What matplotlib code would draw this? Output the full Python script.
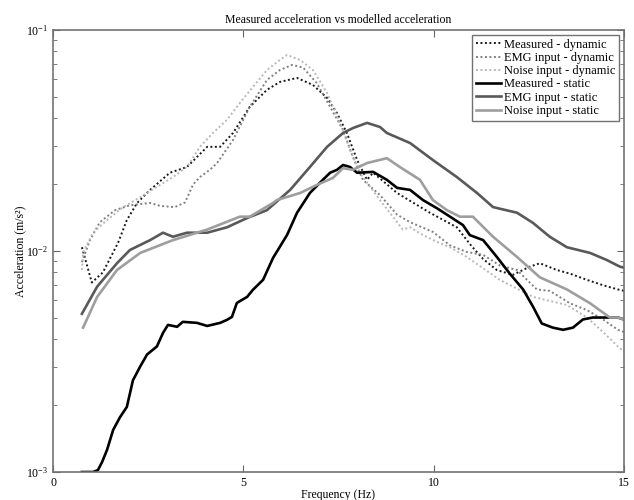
import numpy as np
import matplotlib
matplotlib.use("Agg")
import matplotlib.pyplot as plt

plt.rcParams['font.family'] = ['Liberation Serif', 'DejaVu Serif']
plt.rcParams['mathtext.fontset'] = 'custom'
plt.rcParams['mathtext.rm'] = 'Liberation Serif'
plt.rcParams['mathtext.it'] = 'Liberation Serif:italic'

# values (frequency in Hz, acceleration in m/s^2)
meas_dyn_f = [0.76, 1.02, 1.31, 1.71, 1.94, 2.21, 2.55, 3.07, 3.52, 4.05, 4.39, 4.73,
              5.17, 5.62, 5.96, 6.41, 6.83, 7.20, 7.46, 7.72, 7.99, 8.25, 8.41, 9.04,
              9.90, 10.61, 11.0, 11.30, 11.66, 12.08, 12.53, 12.79, 13.24, 13.58, 14.03,
              14.45, 14.84, 15.0]
meas_dyn_a = [0.0104, 0.0072, 0.0080, 0.0109, 0.0138, 0.0165, 0.0189, 0.0226, 0.0240,
              0.0296, 0.0296, 0.0342, 0.0449, 0.0536, 0.0582, 0.0607, 0.0564, 0.0493,
              0.0421, 0.0342, 0.0258, 0.0210, 0.0226, 0.0183, 0.0149, 0.0128, 0.0105,
              0.0092, 0.0082, 0.0078, 0.0085, 0.0088, 0.0082, 0.0079, 0.0074, 0.0070,
              0.0067, 0.0066]

emg_dyn_f = [0.76, 0.97, 1.23, 1.63, 2.02, 2.55, 2.81, 3.20, 3.47, 3.68, 3.86, 4.12,
             4.31, 4.73, 5.17, 5.62, 5.96, 6.28, 6.57, 6.93, 7.28, 7.62, 7.88, 8.14,
             8.59, 9.04, 9.38, 9.98, 10.43, 10.87, 11.30, 11.74, 12.19, 12.71, 13.05,
             13.58, 14.03, 14.45, 14.84, 15.0]
emg_dyn_a = [0.0089, 0.0112, 0.0135, 0.0153, 0.0161, 0.0165, 0.0160, 0.0158, 0.0166,
             0.0200, 0.0216, 0.0233, 0.0250, 0.0318, 0.0449, 0.0594, 0.0659, 0.0695,
             0.0676, 0.0575, 0.0449, 0.0353, 0.0266, 0.0210, 0.0179, 0.0146, 0.0135,
             0.0122, 0.0106, 0.0099, 0.0096, 0.0086, 0.0082, 0.0067, 0.0066, 0.0058,
             0.0054, 0.0049, 0.0044, 0.0043]

noise_dyn_f = [0.76, 0.79, 1.05, 1.42, 1.84, 2.29, 2.73, 3.15, 3.52, 3.86, 4.20, 4.57,
               4.91, 5.25, 5.62, 5.96, 6.15, 6.49, 6.83, 7.20, 7.54, 7.80, 8.06, 8.59,
               9.04, 9.19, 9.38, 9.72, 10.09, 10.43, 10.87, 11.74, 12.61, 13.50, 14.03,
               14.45, 14.84, 15.0]
noise_dyn_a = [0.0082, 0.0098, 0.0121, 0.0138, 0.0158, 0.0175, 0.0195, 0.0216, 0.0240,
               0.0296, 0.0342, 0.0392, 0.0468, 0.0552, 0.0659, 0.0732, 0.0771, 0.0732,
               0.0659, 0.0519, 0.0380, 0.0287, 0.0226, 0.0170, 0.0135, 0.0125, 0.0128,
               0.0118, 0.0110, 0.0104, 0.0094, 0.0074, 0.0062, 0.0057, 0.0050, 0.0043,
               0.0037, 0.0035]

meas_st_f = [0.76, 1.05, 1.18, 1.29, 1.42, 1.58, 1.76, 1.94, 2.10, 2.29, 2.47, 2.73,
             2.89, 3.02, 3.26, 3.41, 3.78, 4.05, 4.39, 4.57, 4.70, 4.83, 5.10, 5.25,
             5.52, 5.78, 6.15, 6.41, 6.75, 7.09, 7.28, 7.46, 7.62, 7.80, 7.99, 8.41,
             8.77, 9.04, 9.38, 9.72, 10.09, 10.43, 10.77, 10.95, 11.30, 11.66, 12.00,
             12.35, 12.61, 12.84, 13.13, 13.40, 13.66, 13.92, 14.18, 14.55, 14.84, 15.0]
meas_st_a = [0.00100, 0.00100, 0.00102, 0.00111, 0.00126, 0.00155, 0.00177, 0.00197,
             0.00260, 0.00300, 0.00340, 0.00370, 0.00426, 0.00463, 0.00454, 0.00478,
             0.00473, 0.00458, 0.00473, 0.00488, 0.00503, 0.00582, 0.00620, 0.00667,
             0.00741, 0.00930, 0.01183, 0.01488, 0.01832, 0.0210, 0.0226, 0.0233,
             0.0245, 0.0240, 0.0226, 0.0228, 0.0210, 0.0193, 0.0189, 0.0170, 0.0156,
             0.0143, 0.0131, 0.0118, 0.0112, 0.0094, 0.0079, 0.0067, 0.0056, 0.0047,
             0.0045, 0.0044, 0.0045, 0.0049, 0.0050, 0.0050, 0.0050, 0.0049]

emg_st_f = [0.76, 1.16, 1.68, 2.02, 2.55, 2.89, 3.15, 3.52, 4.05, 4.57, 5.10, 5.62,
            6.23, 6.75, 7.20, 7.62, 7.88, 8.25, 8.59, 8.77, 9.38, 9.98, 10.61, 11.14,
            11.56, 12.19, 12.61, 13.05, 13.50, 14.11, 14.55, 14.89, 15.0]
emg_st_a = [0.0052, 0.0069, 0.0088, 0.0101, 0.0112, 0.0121, 0.0116, 0.0121, 0.0121,
            0.0128, 0.0141, 0.0153, 0.0189, 0.0240, 0.0296, 0.0342, 0.0360, 0.0380,
            0.0364, 0.0342, 0.0308, 0.0258, 0.0216, 0.0183, 0.0158, 0.0149, 0.0134,
            0.0116, 0.0104, 0.0098, 0.0091, 0.0085, 0.0084]

noise_st_f = [0.79, 1.16, 1.68, 2.29, 3.15, 4.05, 4.91, 5.17, 5.78, 5.88, 6.49, 6.93,
              7.35, 7.62, 7.88, 8.25, 8.77, 9.11, 9.64, 9.98, 10.35, 10.69, 11.03, 11.56,
              12.19, 12.79, 13.50, 14.11, 14.63, 14.84, 15.0]
noise_st_a = [0.0045, 0.0062, 0.0082, 0.0098, 0.0112, 0.0125, 0.0143, 0.0143, 0.0165,
              0.0170, 0.0183, 0.0199, 0.0214, 0.0237, 0.0233, 0.0250, 0.0263, 0.0240,
              0.0210, 0.0170, 0.0153, 0.0143, 0.0143, 0.0116, 0.0094, 0.0076, 0.0067,
              0.0058, 0.0050, 0.0050, 0.0049]

labels = ['Measured - dynamic', 'EMG input - dynamic', 'Noise input - dynamic',
          'Measured - static', 'EMG input - static', 'Noise input - static']

fig = plt.figure(figsize=(6.34, 5.0), dpi=100)
ax = fig.add_axes([0.0836, 0.056, 0.9006, 0.884])

dots = (0, (1, 1.3))
ax.semilogy(meas_dyn_f, meas_dyn_a, color='0.1', ls=dots, lw=1.4, label=labels[0])
ax.semilogy(emg_dyn_f, emg_dyn_a, color='0.5', ls=dots, lw=1.4, label=labels[1])
ax.semilogy(noise_dyn_f, noise_dyn_a, color='0.72', ls=dots, lw=1.4, label=labels[2])
ax.semilogy(meas_st_f, meas_st_a, color='black', lw=1.9, label=labels[3])
ax.semilogy(emg_st_f, emg_st_a, color='0.35', lw=1.9, label=labels[4])
ax.semilogy(noise_st_f, noise_st_a, color='0.62', lw=1.9, label=labels[5])

ax.set_xlim(0, 15)
ax.set_ylim(1e-3, 1e-1)
ax.set_xticks([0, 5, 10, 15])
ax.tick_params(which='both', direction='in', top=True, right=True, labelsize=8.5,
               color='0.4')
ax.tick_params(which='major', length=5)
ax.tick_params(which='minor', length=3)
for s in ax.spines.values():
    s.set_color('0.45')
    s.set_linewidth(1.2)

ax.set_title('Measured acceleration vs modelled acceleration', fontsize=8.5, pad=5)
ax.set_xlabel('Frequency (Hz)', fontsize=8.5, labelpad=0)
ax.set_ylabel('Acceleration (m/s²)', fontsize=8.5, labelpad=0)

leg = ax.legend(loc='upper right', fontsize=9, frameon=True, fancybox=False,
                handlelength=2.0, handletextpad=0.2, borderpad=0.3,
                labelspacing=0.1, borderaxespad=0.4)
leg.get_frame().set_edgecolor('0.3')
leg.get_frame().set_linewidth(1.0)

fig.savefig('out.png', dpi=100)
